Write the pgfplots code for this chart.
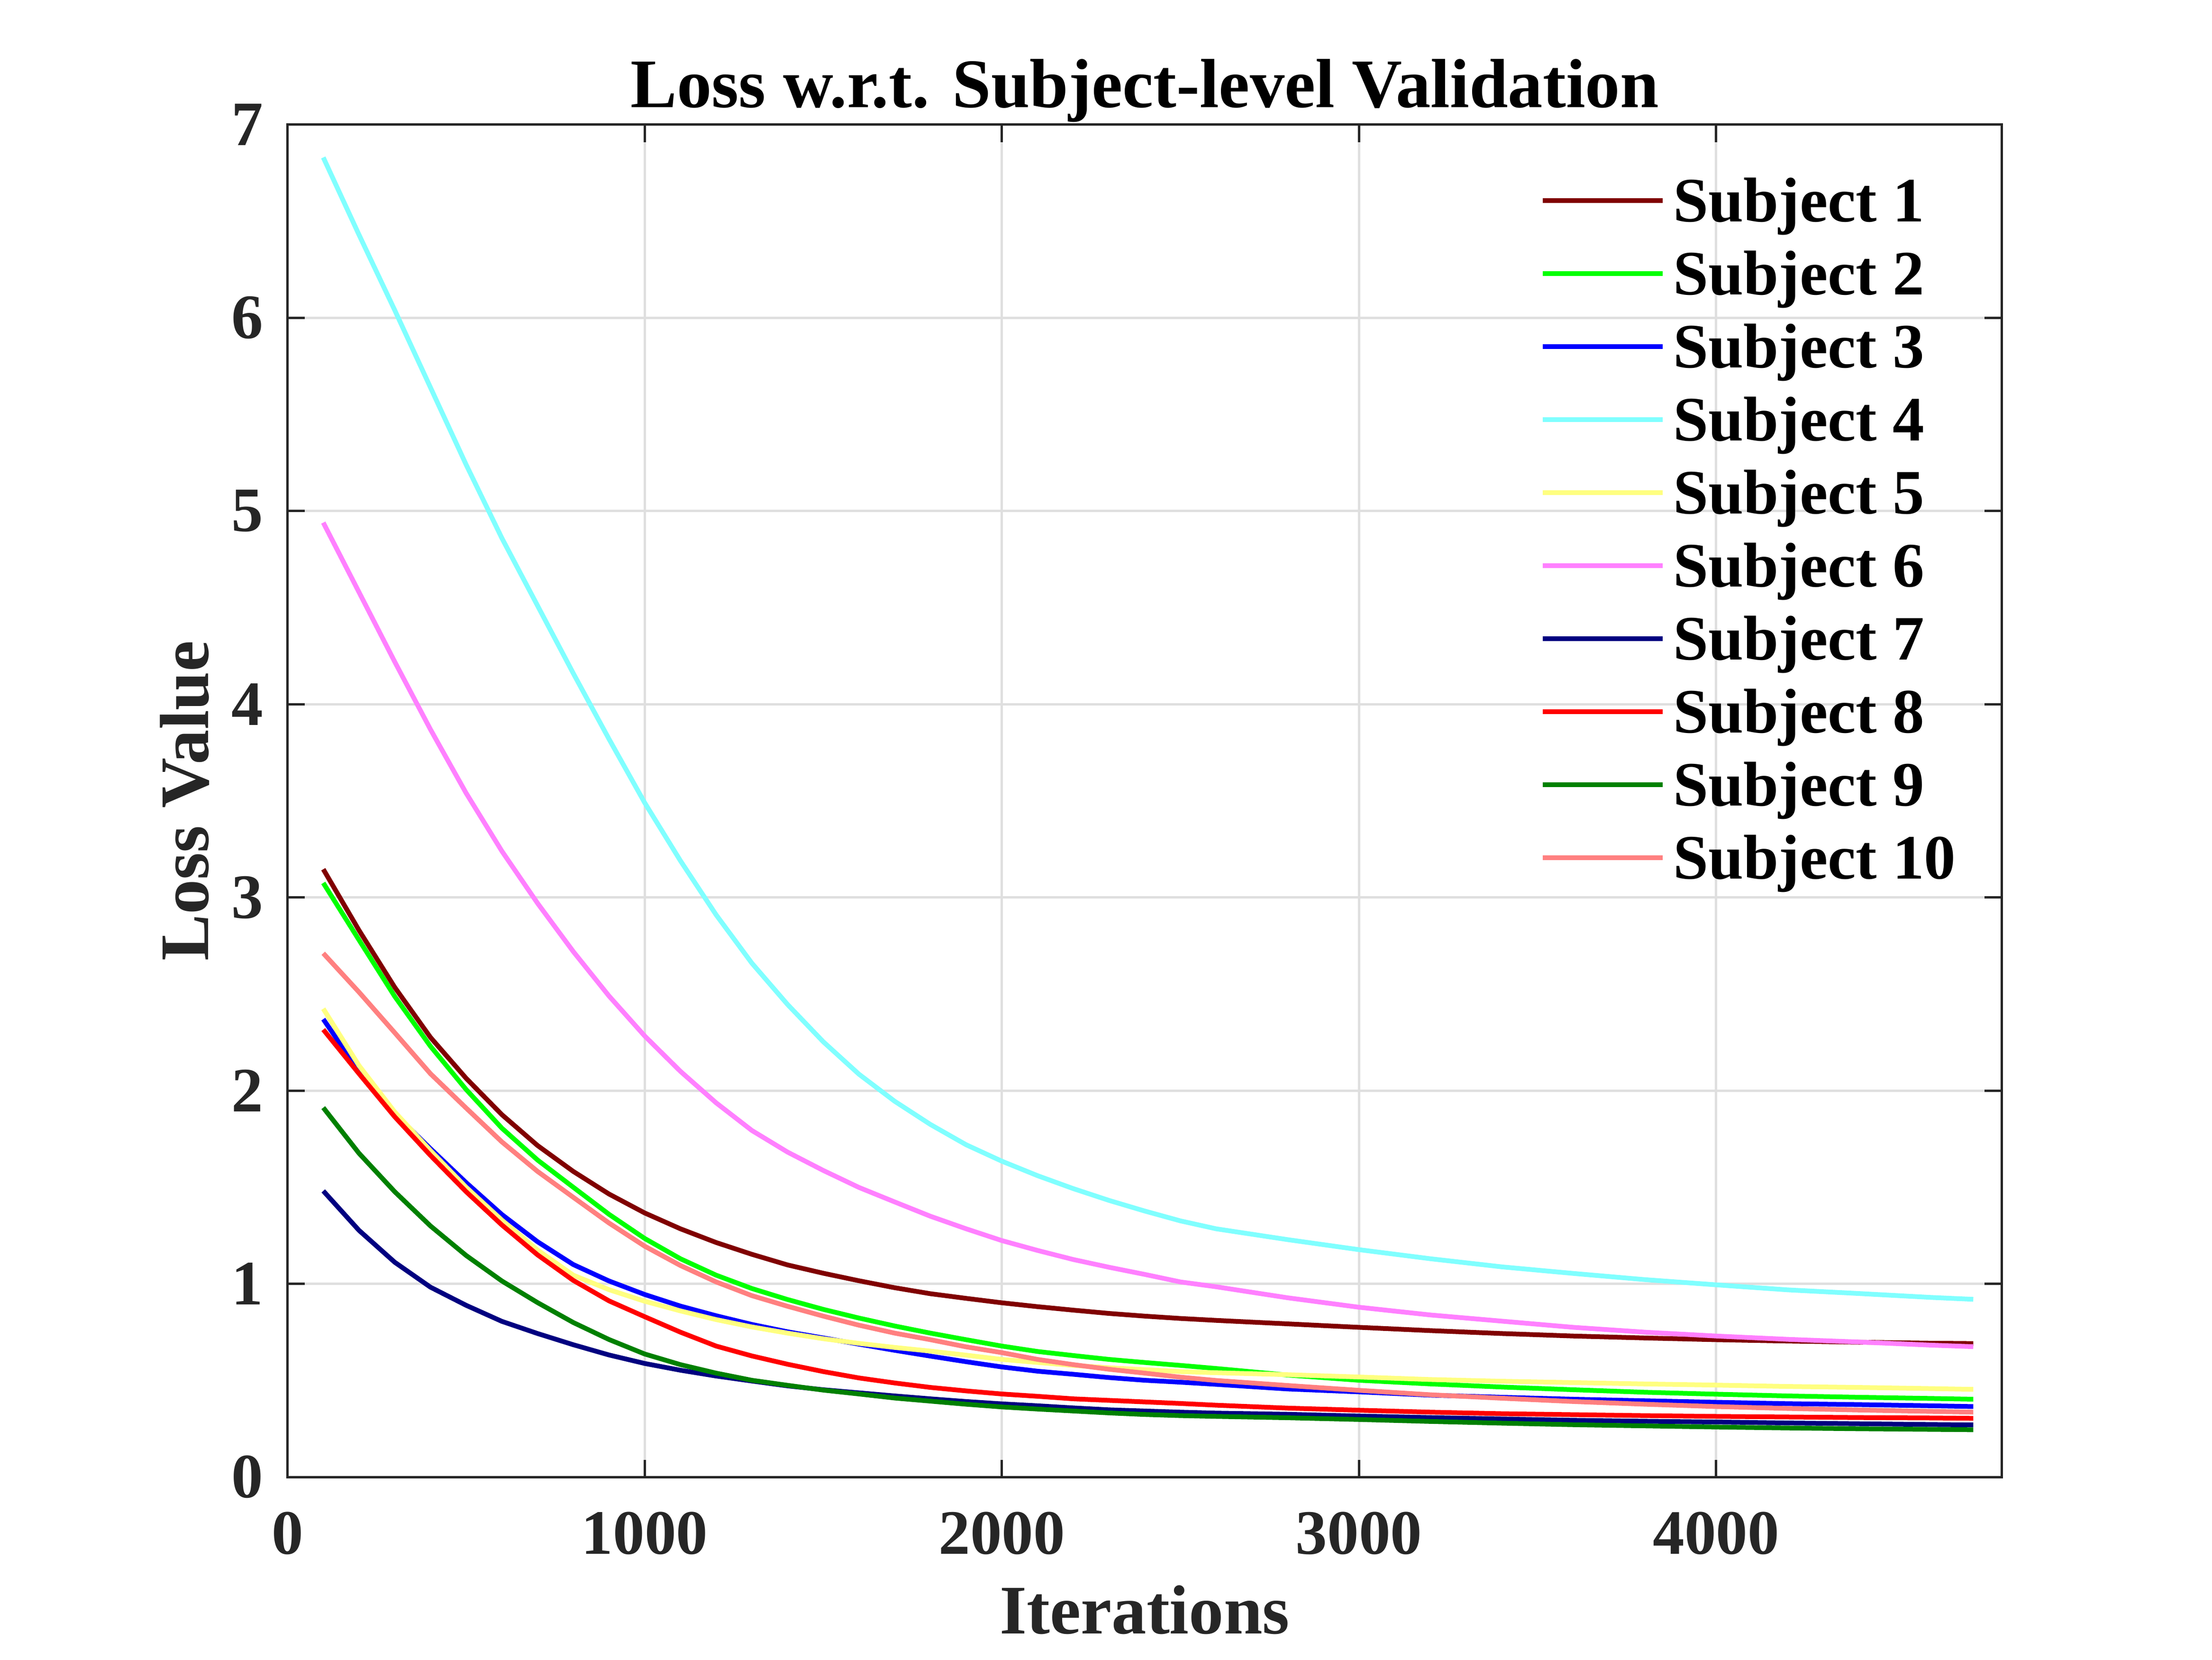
\documentclass[border=0pt]{standalone}
\usepackage{fontspec}
\setmainfont{Liberation Serif}
\usepackage{pgfplots}
\usepackage{pgfplotstable}
\pgfplotsset{compat=1.18}
\definecolor{axgray}{HTML}{262626}
\definecolor{gridgray}{HTML}{DFDFDF}
\definecolor{cA}{rgb}{0.5,0,0}
\definecolor{cB}{rgb}{0,1,0}
\definecolor{cC}{rgb}{0,0,1}
\definecolor{cD}{rgb}{0.5,1,1}
\definecolor{cE}{rgb}{1,1,0.5}
\definecolor{cF}{rgb}{1,0.5,1}
\definecolor{cG}{rgb}{0,0,0.5}
\definecolor{cH}{rgb}{1,0,0}
\definecolor{cI}{rgb}{0,0.5,0}
\definecolor{cJ}{rgb}{1,0.5,0.5}
\pgfplotstableread{
x s1 s2 s3 s4 s5 s6 s7 s8 s9 s10
100 3.146 3.075 2.370 6.83 2.424 4.94 1.481 2.316 1.912 2.711
200 2.830 2.780 2.100 6.43 2.130 4.58 1.277 2.088 1.676 2.510
300 2.535 2.488 1.880 6.04 1.890 4.22 1.112 1.865 1.477 2.300
400 2.276 2.230 1.700 5.64 1.690 3.87 0.983 1.665 1.300 2.088
500 2.064 2.006 1.524 5.24 1.500 3.54 0.889 1.477 1.147 1.910
600 1.876 1.806 1.359 4.86 1.330 3.24 0.806 1.305 1.015 1.735
700 1.716 1.641 1.218 4.51 1.175 2.97 0.743 1.150 0.903 1.582
800 1.582 1.500 1.100 4.16 1.045 2.72 0.685 1.018 0.800 1.448
900 1.465 1.360 1.015 3.82 0.970 2.49 0.632 0.912 0.712 1.315
1000 1.367 1.235 0.945 3.49 0.910 2.283 0.588 0.830 0.637 1.195
1100 1.285 1.130 0.885 3.19 0.860 2.100 0.553 0.750 0.582 1.095
1200 1.214 1.045 0.835 2.910 0.815 1.937 0.523 0.678 0.538 1.010
1300 1.153 0.976 0.790 2.660 0.777 1.794 0.497 0.627 0.501 0.939
1400 1.098 0.919 0.752 2.446 0.745 1.682 0.472 0.584 0.475 0.884
1500 1.055 0.868 0.720 2.253 0.716 1.587 0.452 0.546 0.450 0.833
1600 1.016 0.823 0.688 2.085 0.692 1.499 0.436 0.513 0.430 0.786
1700 0.980 0.782 0.656 1.945 0.671 1.424 0.420 0.487 0.409 0.745
1800 0.949 0.745 0.626 1.825 0.652 1.350 0.405 0.464 0.393 0.711
1900 0.925 0.711 0.597 1.720 0.631 1.285 0.391 0.446 0.377 0.674
2000 0.902 0.678 0.570 1.635 0.609 1.224 0.379 0.430 0.363 0.644
2100 0.882 0.650 0.548 1.560 0.593 1.173 0.369 0.418 0.352 0.609
2200 0.864 0.629 0.532 1.493 0.578 1.126 0.358 0.405 0.342 0.582
2300 0.847 0.609 0.515 1.432 0.566 1.086 0.348 0.397 0.332 0.558
2400 0.833 0.593 0.501 1.377 0.556 1.049 0.342 0.389 0.324 0.538
2500 0.821 0.578 0.491 1.326 0.546 1.010 0.336 0.381 0.318 0.517
2600 0.811 0.562 0.480 1.285 0.540 0.985 0.331 0.372 0.314 0.500
2800 0.793 0.528 0.456 1.229 0.530 0.928 0.325 0.357 0.307 0.474
3000 0.775 0.501 0.441 1.177 0.518 0.879 0.316 0.346 0.298 0.449
3200 0.758 0.482 0.424 1.130 0.505 0.839 0.308 0.336 0.288 0.426
3400 0.743 0.466 0.413 1.088 0.496 0.807 0.301 0.328 0.279 0.408
3600 0.730 0.452 0.403 1.054 0.489 0.775 0.294 0.323 0.271 0.391
3800 0.720 0.439 0.395 1.022 0.482 0.750 0.289 0.318 0.265 0.377
4000 0.711 0.429 0.387 0.995 0.476 0.730 0.285 0.314 0.259 0.365
4200 0.704 0.420 0.380 0.969 0.469 0.713 0.280 0.311 0.254 0.355
4400 0.698 0.413 0.375 0.950 0.464 0.699 0.276 0.308 0.250 0.347
4600 0.693 0.407 0.369 0.930 0.458 0.683 0.272 0.306 0.247 0.340
4720 0.691 0.403 0.365 0.920 0.454 0.675 0.270 0.304 0.245 0.336
}\losstable
\begin{document}
\begin{tikzpicture}
\path[use as bounding box] (0,0) rectangle (420pt,315pt);
\begin{axis}[
  at={(54.6pt,34.65pt)}, anchor=south west,
  scale only axis, width=325.5pt, height=256.7pt,
  xmin=0, xmax=4800, ymin=0, ymax=7,
  xtick={0,1000,2000,3000,4000},
  ytick={0,1,2,3,4,5,6,7},
  scaled ticks=false,
  /pgf/number format/1000 sep={},
  /pgf/number format/assume math mode=true,
  tick align=inside, tick pos=both,
  major tick length=3.3pt,
  every tick/.style={axgray, line width=0.45pt},
  axis line style={axgray, line width=0.45pt},
  grid=major,
  major grid style={gridgray, line width=0.45pt},
  ticklabel style={font=\fontsize{12}{14}\selectfont\bfseries, text=axgray},
  xticklabel style={anchor=base, inner sep=0pt, yshift=-14.6pt},
  yticklabel style={anchor=east, inner sep=0pt, xshift=-4.4pt},
  xlabel={Iterations},
  ylabel={Loss Value},
  xlabel style={at={(axis description cs:0.5,-0.1157)}, anchor=base, inner sep=0pt, font=\fontsize{13.2}{15}\selectfont\bfseries, text=axgray},
  ylabel style={at={(axis description cs:-0.0461,0.5)}, anchor=base, inner sep=0pt, font=\fontsize{13.2}{15}\selectfont\bfseries, text=axgray},
  title={Loss w.r.t. Subject-level Validation},
  title style={at={(axis description cs:0.5,1.0129)}, anchor=base, inner sep=0pt, yshift=-6pt, font=\fontsize{13.2}{15}\selectfont\bfseries, text=black},
  legend cell align=left,
  legend image code/.code={\draw[#1] (0pt,0pt) -- (22.7pt,0pt);},
  legend style={at={(rel axis cs:0.7309,0.9709)}, anchor=north west,
    draw=none, fill=none, inner sep=0pt, outer sep=0pt, row sep=0pt,
    font=\fontsize{12}{14}\selectfont\bfseries,
    nodes={inner sep=0pt, text height=10.98pt, text depth=2.88pt},
    /tikz/every odd column/.append style={column sep=1.6pt}},
  every axis plot/.append style={line width=0.9pt},
]
\addplot[cA] table[x=x,y=s1] {\losstable}; \addlegendentry{Subject 1}
\addplot[cB] table[x=x,y=s2] {\losstable}; \addlegendentry{Subject 2}
\addplot[cC] table[x=x,y=s3] {\losstable}; \addlegendentry{Subject 3}
\addplot[cD] table[x=x,y=s4] {\losstable}; \addlegendentry{Subject 4}
\addplot[cE] table[x=x,y=s5] {\losstable}; \addlegendentry{Subject 5}
\addplot[cF] table[x=x,y=s6] {\losstable}; \addlegendentry{Subject 6}
\addplot[cG] table[x=x,y=s7] {\losstable}; \addlegendentry{Subject 7}
\addplot[cH] table[x=x,y=s8] {\losstable}; \addlegendentry{Subject 8}
\addplot[cI] table[x=x,y=s9] {\losstable}; \addlegendentry{Subject 9}
\addplot[cJ] table[x=x,y=s10] {\losstable}; \addlegendentry{Subject 10}
\end{axis}
\end{tikzpicture}
\end{document}
